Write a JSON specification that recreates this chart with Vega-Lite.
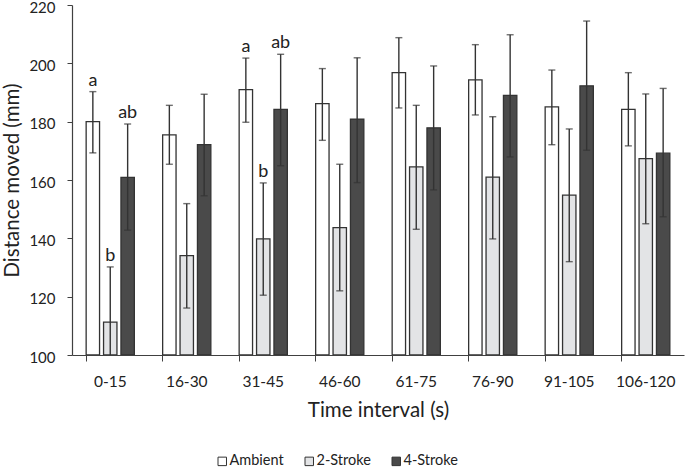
{
  "$schema": "https://vega.github.io/schema/vega-lite/v6.json",
  "width": 612,
  "height": 350,
  "autosize": "none",
  "padding": {"left": 72, "top": 5, "right": 1, "bottom": 113},
  "background": "white",
  "config": {
    "view": {"stroke": null},
    "font": "Lato",
    "axis": {"grid": false, "domainColor": "#404040", "tickColor": "#404040", "labelColor": "#222", "titleColor": "#222", "labelFont": "Lato", "titleFont": "Lato", "titleFontWeight": "normal"}
  },
  "data": {"values": [
    {"interval": "0-15", "treatment": "Ambient", "mean": 180.0, "lo": 169.3, "hi": 190.3, "sig": "a"},
    {"interval": "0-15", "treatment": "2-Stroke", "mean": 111.3, "lo": 92.3, "hi": 130.2, "sig": "b"},
    {"interval": "0-15", "treatment": "4-Stroke", "mean": 160.9, "lo": 142.8, "hi": 179.2, "sig": "ab"},
    {"interval": "16-30", "treatment": "Ambient", "mean": 175.5, "lo": 165.4, "hi": 185.6, "sig": ""},
    {"interval": "16-30", "treatment": "2-Stroke", "mean": 134.1, "lo": 116.1, "hi": 151.9, "sig": ""},
    {"interval": "16-30", "treatment": "4-Stroke", "mean": 172.1, "lo": 154.6, "hi": 189.4, "sig": ""},
    {"interval": "31-45", "treatment": "Ambient", "mean": 191.0, "lo": 179.8, "hi": 201.8, "sig": "a"},
    {"interval": "31-45", "treatment": "2-Stroke", "mean": 139.8, "lo": 120.5, "hi": 159.0, "sig": "b"},
    {"interval": "31-45", "treatment": "4-Stroke", "mean": 184.2, "lo": 164.9, "hi": 203.1, "sig": "ab"},
    {"interval": "46-60", "treatment": "Ambient", "mean": 186.2, "lo": 173.6, "hi": 198.2, "sig": ""},
    {"interval": "46-60", "treatment": "2-Stroke", "mean": 143.7, "lo": 122.0, "hi": 165.4, "sig": ""},
    {"interval": "46-60", "treatment": "4-Stroke", "mean": 180.9, "lo": 159.1, "hi": 201.9, "sig": ""},
    {"interval": "61-75", "treatment": "Ambient", "mean": 196.8, "lo": 184.7, "hi": 208.8, "sig": ""},
    {"interval": "61-75", "treatment": "2-Stroke", "mean": 164.5, "lo": 143.1, "hi": 185.6, "sig": ""},
    {"interval": "61-75", "treatment": "4-Stroke", "mean": 177.9, "lo": 156.6, "hi": 199.1, "sig": ""},
    {"interval": "76-90", "treatment": "Ambient", "mean": 194.3, "lo": 182.3, "hi": 206.4, "sig": ""},
    {"interval": "76-90", "treatment": "2-Stroke", "mean": 161.0, "lo": 139.8, "hi": 181.7, "sig": ""},
    {"interval": "76-90", "treatment": "4-Stroke", "mean": 189.0, "lo": 167.9, "hi": 209.8, "sig": ""},
    {"interval": "91-105", "treatment": "Ambient", "mean": 185.1, "lo": 172.1, "hi": 197.7, "sig": ""},
    {"interval": "91-105", "treatment": "2-Stroke", "mean": 154.8, "lo": 132.0, "hi": 177.5, "sig": ""},
    {"interval": "91-105", "treatment": "4-Stroke", "mean": 192.3, "lo": 170.2, "hi": 214.5, "sig": ""},
    {"interval": "106-120", "treatment": "Ambient", "mean": 184.2, "lo": 171.7, "hi": 196.8, "sig": ""},
    {"interval": "106-120", "treatment": "2-Stroke", "mean": 167.3, "lo": 145.0, "hi": 189.5, "sig": ""},
    {"interval": "106-120", "treatment": "4-Stroke", "mean": 169.2, "lo": 147.4, "hi": 191.4, "sig": ""}
  ]},
  "encoding": {
    "x": {
      "field": "interval", "type": "nominal", "sort": null,
      "scale": {"paddingInner": 0.37, "paddingOuter": 0.185},
      "axis": {"title": "Time interval (s)", "labelAngle": 0, "labelFontSize": 15.5, "titleFontSize": 20.5, "labelPadding": 13, "titlePadding": 11, "tickSize": 6, "bandPosition": 0, "domainWidth": 1.2}
    },
    "xOffset": {"field": "treatment", "type": "nominal", "sort": ["Ambient", "2-Stroke", "4-Stroke"], "scale": {"paddingInner": 0.23, "paddingOuter": 0}}
  },
  "layer": [
    {
      "mark": {"type": "bar", "stroke": "#333", "strokeWidth": 1.3, "clip": true},
      "encoding": {
        "y": {"field": "mean", "type": "quantitative", "scale": {"domain": [100, 220], "zero": false, "nice": false},
              "axis": {"title": "Distance moved (mm)", "values": [100, 120, 140, 160, 180, 200, 220], "labelFontSize": 15, "labelBaseline": "alphabetic", "labelOffset": 7, "titleFontSize": 20.5, "labelPadding": 12, "titlePadding": 6, "tickSize": 5, "domainWidth": 1.2}},
        "y2": {"datum": 100},
        "fill": {"field": "treatment", "type": "nominal",
                 "scale": {"domain": ["Ambient", "2-Stroke", "4-Stroke"], "range": ["#ffffff", "#e3e4e6", "#4a4a4a"]},
                 "legend": {"title": null, "orient": "none", "legendX": 143, "legendY": 449, "direction": "horizontal", "symbolType": "square", "symbolSize": 72, "symbolStrokeColor": "#333", "symbolStrokeWidth": 1, "labelFontSize": 14.5, "labelColor": "#222", "labelOffset": 0, "columnPadding": 18, "labelFont": "Lato"}}
      }
    },
    {
      "mark": {"type": "rule", "color": "#333", "strokeWidth": 1.4, "clip": true},
      "encoding": {"y": {"field": "lo", "type": "quantitative"}, "y2": {"field": "hi"}}
    },
    {
      "mark": {"type": "tick", "color": "#333", "thickness": 1.4, "size": 7, "clip": true},
      "encoding": {"y": {"field": "hi", "type": "quantitative"}}
    },
    {
      "mark": {"type": "tick", "color": "#333", "thickness": 1.4, "size": 7, "clip": true},
      "encoding": {"y": {"field": "lo", "type": "quantitative"}}
    },
    {
      "transform": [{"filter": "datum.sig != ''"}],
      "mark": {"type": "text", "fontSize": 18, "color": "#222", "baseline": "alphabetic", "dy": -6, "font": "Lato"},
      "encoding": {"y": {"field": "hi", "type": "quantitative"}, "text": {"field": "sig"}}
    }
  ]
}
